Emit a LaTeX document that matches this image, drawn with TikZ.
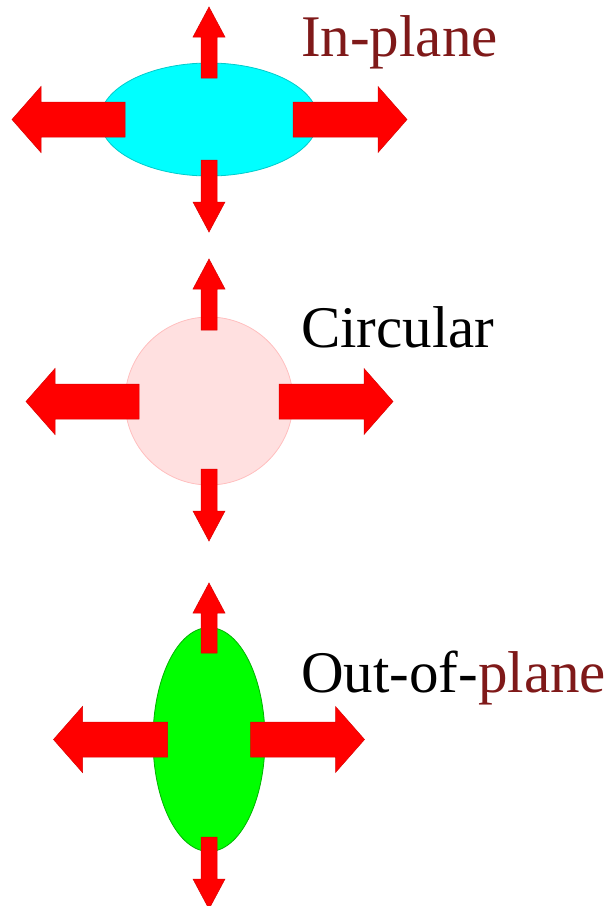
\documentclass[tikz,border=0pt]{standalone}
\usepackage{fontspec}
\setmainfont{Liberation Serif}
\usetikzlibrary{shapes.geometric,calc}

\definecolor{darkred}{HTML}{7F1919}
\definecolor{arrowred}{HTML}{FF0000}
\definecolor{pinkfill}{HTML}{FFE0E0}
\definecolor{brightcyan}{HTML}{00FFFF}
\definecolor{brightgreen}{HTML}{00FF00}

% block arrow: start, angle, length, shaft half width, head half width, head length
\newcommand{\blockarrow}[6]{%
  \draw[redarrow, shift={#1}, rotate=#2]
    (0,-#4) -- ({#3-#6},-#4) -- ({#3-#6},-#5) -- (#3,0)
    -- ({#3-#6},#5) -- ({#3-#6},#4) -- (0,#4) -- cycle;}

\begin{document}
\begin{tikzpicture}[
    x=1pt, y=-1pt,
    blob/.style={ellipse, inner sep=0pt, line width=0.8pt},
    redarrow/.style={fill=arrowred, draw=arrowred!85!black, line width=0.5pt},
    label/.style={anchor=base west, inner sep=0pt, font=\fontsize{59}{71}\selectfont}
  ]
    \useasboundingbox (0,0) rectangle (614,906);

    % In-plane
    \node[blob, fill=brightcyan, draw=brightcyan!80!black, minimum width=218pt, minimum height=113pt] (inplane) at (209,119.5) {};
    \blockarrow{($(inplane)+(0,-41.5)$)}{90}{71}{8}{16}{30}
    \blockarrow{($(inplane)+(0,40.5)$)}{270}{72}{8}{16}{30}
    \blockarrow{($(inplane)+(-84,0)$)}{180}{113}{17.5}{33}{29}
    \blockarrow{($(inplane)+(84,0)$)}{0}{114}{17.5}{33}{29}
    \node[label, text=darkred] (inplanetext) at (301,56) {In-plane};

    % Circular
    \node[blob, circle, fill=pinkfill, draw=red!25, minimum size=168pt] (circular) at (209,401) {};
    \blockarrow{($(circular)+(0,-71)$)}{90}{71}{8}{16}{30}
    \blockarrow{($(circular)+(0,68)$)}{270}{72}{8}{16}{30}
    \blockarrow{($(circular)+(-70,0.5)$)}{180}{113}{17.5}{33}{29}
    \blockarrow{($(circular)+(70,0.5)$)}{0}{114}{17.5}{33}{29}
    \node[label] (circulartext) at (301,347) {Circular};

    % Out-of-plane
    \node[blob, fill=brightgreen, draw=brightgreen!70!black, minimum width=112pt, minimum height=224pt] (outplane) at (209,739.5) {};
    \blockarrow{($(outplane)+(0,-86.5)$)}{90}{70}{8}{16}{30}
    \blockarrow{($(outplane)+(0,97.5)$)}{270}{72}{8}{16}{30}
    \blockarrow{($(outplane)+(-41.5,0)$)}{180}{114}{17.5}{33}{29}
    \blockarrow{($(outplane)+(41.5,0)$)}{0}{114}{17.5}{33}{29}
    \node[label] (outplanetext) at (301,692) {Out-of-\textcolor{darkred}{plane}};

  \end{tikzpicture}
\end{document}
